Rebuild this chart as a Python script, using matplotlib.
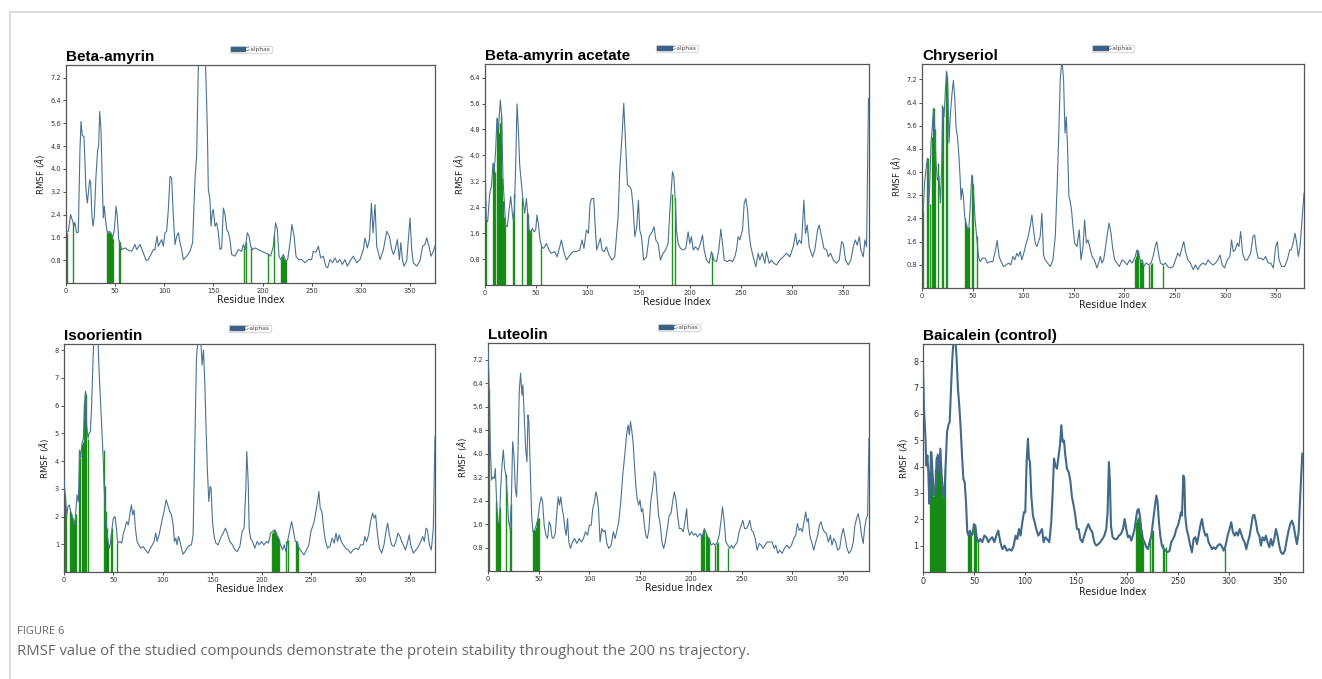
#!/usr/bin/env python3
from __future__ import annotations

import matplotlib

matplotlib.use("Agg")
import matplotlib.pyplot as plt
from matplotlib.lines import Line2D
from matplotlib.patches import Patch

COLORS = {
    "line": "#4a7393",
    "line_bold": "#41698a",
    "legend": "#3d6182",
    "contact": "#008000",
    "text": "#333333",
    "spine": "#555555",
    "caption": "#666666",
    "frame": "#d6d6d6",
}

W, H = 1322, 679

# (residue, RMSF in angstrom) vertices
BETA_AMYRIN = [
    (0, 1.76), (2.4, 1.81), (4.7, 2.4), (6.8, 2.16), (8, 1.99), (9, 2.13), (10.8, 1.76), (12.5, 1.78),
    (14.2, 4.67), (15.3, 5.66), (16.6, 5.16), (18.3, 5.14), (20.3, 3.27), (21.7, 2.8), (22.7, 3.15),
    (24.1, 3.62), (25.1, 3.5), (26.4, 2.34), (27.5, 1.99), (28.8, 2.34), (30.5, 3.74), (32.2, 4.67),
    (33.2, 4.79), (34.3, 6.01), (35.6, 5.37), (37, 3.39), (38, 2.28), (39, 2.69), (40.3, 2.16), (42, 1.76),
    (44, 1.81), (45.8, 1.76), (47.5, 1.58), (49.2, 1.87), (50.9, 2.69), (52.2, 2.34), (53.6, 1.52),
    (54.9, 1.41), (56.6, 1.17), (60, 1.23), (63.4, 1.15), (66.8, 1.11), (70.2, 1.35), (71.9, 1.17),
    (75.3, 1.35), (78.7, 1.06), (81.4, 0.79), (83.8, 0.82), (86.5, 1.0), (88.8, 1.17), (90.5, 1.17),
    (92.6, 1.64), (93.9, 1.29), (95.6, 1.41), (97.3, 1.52), (99, 1.29), (100.7, 1.76), (102.4, 1.81),
    (104.1, 2.57), (105.8, 3.74), (107.5, 3.68), (109.2, 2.34), (110.9, 1.35), (112.6, 1.64), (114.3, 1.76),
    (116, 1.41), (117.7, 1.17), (119.4, 0.82), (122.8, 0.94), (126.1, 1.11), (128.8, 1.41), (131.2, 3.62),
    (132.9, 4.44), (134.6, 7.5), (137, 8.8), (141, 8.5), (142, 7.64), (143.8, 5.37), (144.8, 3.27),
    (146.5, 2.92), (147.5, 1.99), (148.9, 2.51), (149.9, 2.57), (151.6, 1.99), (153.3, 2.11), (155, 1.76),
    (156.7, 1.17), (158.4, 1.23), (160.1, 2.63), (161.8, 2.4), (163.5, 1.87), (165.2, 1.76), (166.8, 1.52),
    (168.5, 1.0), (171.9, 0.94), (175.3, 1.17), (178.7, 1.11), (180.4, 1.35), (182.1, 1.17), (184.5, 1.76),
    (186.2, 1.64), (187.9, 1.29), (189.6, 1.17), (192.3, 1.23), (195.7, 1.17), (199, 1.11), (202.4, 1.06),
    (205.8, 1.0), (208.2, 0.94), (210.9, 1.29), (213.3, 2.11), (215, 1.87), (216.7, 0.94), (218.4, 0.82),
    (221.1, 1.0), (223.5, 0.77), (225.5, 0.82), (227.9, 1.41), (229.9, 2.05), (232, 1.64), (234, 0.94),
    (236.4, 0.82), (239.7, 0.82), (243.1, 0.71), (246.5, 0.82), (249.9, 0.82), (251.6, 1.11), (254.3, 1.08),
    (256.7, 1.29), (259.1, 0.88), (261.8, 0.94), (264.2, 0.59), (266.2, 0.53), (268.6, 0.82), (271.3, 0.71),
    (273.7, 0.88), (276, 0.71), (278.7, 0.82), (281.1, 0.65), (283.8, 0.82), (286.2, 0.59), (288.9, 0.77),
    (292.3, 0.94), (295.7, 0.71), (299.1, 0.82), (302.5, 1.17), (304.2, 1.58), (306.6, 1.23), (308.7, 1.52),
    (310.7, 2.8), (312.4, 1.76), (314.4, 2.75), (316.1, 1.29), (319.5, 0.82), (322.9, 1.17), (326.3, 1.81),
    (329, 1.64), (331.4, 1.17), (333.1, 1.0), (334.8, 1.17), (337.1, 1.52), (339.2, 0.82), (340.6, 1.41),
    (342.5, 0.77), (343.9, 0.59), (346.6, 0.77), (350, 2.28), (351.7, 1.17), (353.3, 0.71), (356.7, 0.59),
    (360.1, 0.77), (362.8, 1.29), (365.2, 1.35), (366.9, 1.58), (369.3, 1.29), (371.3, 0.94), (373.7, 1.11),
    (375.4, 1.29),
]
BETA_AMYRIN_CONTACTS = [1, 7, 42, 43, 44, 45, 46, 47, 48, 54, 55, 181, 183, 188, 206, 212, 219, 220, 221, 222, 223, 224]
BETA_AMYRIN_CONTACT_H = [1.75, 2.1, 1.75, 1.8, 1.8, 1.75, 1.7, 1.6, 1.55, 1.5, 1.45, 1.3, 1.45, 1.25, 1.05, 1.7,
                         0.85, 0.95, 0.95, 0.85, 0.8, 0.8]

BETA_AMYRIN_ACETATE = [
    (0, 3.96), (1.3, 2.0), (2.6, 1.95), (4.6, 2.83), (6.2, 3.03), (7.8, 3.76), (9.1, 3.55), (10.4, 4.17),
    (11.7, 5.15), (13, 4.79), (15, 5.71), (16.3, 5.2), (17.6, 3.24), (18.9, 2.52), (20.2, 1.85), (21.8, 1.8),
    (23.5, 2.31), (25.1, 2.73), (26.4, 2.31), (27.4, 2.0), (28.7, 2.31), (30, 3.76), (31.3, 5.59), (32.6, 4.79),
    (33.9, 3.7), (35.5, 3.14), (37.1, 2.62), (38.8, 2.21), (40.4, 2.67), (41.7, 2.21), (43, 1.7), (44.6, 1.64),
    (46.3, 1.75), (47.9, 1.64), (49.5, 1.7), (50.8, 2.16), (52.1, 1.9), (53.7, 1.39), (55.4, 1.18), (57.3, 1.13),
    (59.9, 1.28), (62.5, 1.08), (64.8, 0.98), (68.1, 1.03), (70.4, 0.87), (73, 1.18), (74.6, 1.39), (76.9, 1.03),
    (79.5, 0.77), (82.7, 0.92), (86, 1.03), (89.3, 1.03), (92.5, 1.08), (94.8, 1.39), (96.7, 1.13), (99, 1.7),
    (101, 1.59), (102.6, 2.52), (104.2, 2.67), (106.2, 2.67), (107.8, 1.7), (109.1, 1.08), (111.1, 1.28),
    (112.7, 1.44), (114.3, 1.08), (116.3, 1.03), (118.6, 1.18), (121.2, 0.92), (124.1, 0.77), (126.7, 0.87),
    (130, 2.11), (131.6, 3.55), (133.6, 4.48), (135.5, 5.61), (137.1, 4.48), (139.1, 3.09), (141.4, 3.03),
    (143, 2.93), (144.6, 2.42), (146.3, 1.49), (148.2, 1.8), (149.8, 2.62), (151.1, 1.7), (152.8, 1.49),
    (155, 0.77), (157.7, 0.87), (160.3, 1.49), (163.2, 1.64), (165.1, 1.8), (166.8, 1.39), (169.1, 1.28),
    (171.3, 0.77), (173.9, 0.98), (176.5, 1.08), (178.8, 1.28), (180.5, 2.26), (183.1, 3.5), (184.4, 3.34),
    (185.7, 2.67), (187, 1.7), (188.6, 1.28), (190.9, 1.13), (193.5, 1.08), (196.1, 1.13), (198.4, 1.64),
    (200, 1.28), (201.6, 1.49), (203.3, 1.08), (205.5, 1.18), (208.1, 1.08), (210.4, 1.28), (212.4, 1.54),
    (214, 1.08), (216.3, 0.77), (218.9, 0.67), (221.2, 1.03), (223.5, 0.77), (226.1, 0.72), (228.3, 1.08),
    (230.3, 1.72), (231.9, 1.28), (233.6, 0.77), (236.5, 0.72), (239.1, 0.77), (241.7, 0.72), (244, 0.87),
    (245.6, 1.08), (247.2, 1.49), (248.9, 1.39), (250.5, 1.59), (251.5, 1.7), (253.1, 2.52), (254.7, 2.67),
    (256.4, 2.31), (258, 1.54), (259.6, 1.18), (261.9, 0.87), (264.5, 0.56), (266.8, 0.98), (268.4, 0.77),
    (270.7, 0.98), (273.3, 0.67), (274.9, 1.03), (277.5, 0.67), (279.8, 0.77), (282.1, 0.67), (284.7, 0.62),
    (287.9, 0.77), (291.2, 0.87), (294.5, 0.98), (297.7, 0.87), (301, 1.18), (303.3, 1.59), (304.9, 1.23),
    (306.8, 1.39), (309.1, 1.28), (311.4, 2.62), (313, 1.59), (314.7, 1.85), (316.6, 1.18), (319.9, 0.87),
    (322.1, 1.08), (324.8, 1.7), (326.4, 1.85), (328.7, 1.49), (331, 1.13), (333.6, 1.08), (335.2, 0.87),
    (337.5, 0.98), (340.1, 0.77), (343.3, 0.67), (345.9, 0.77), (348.2, 1.34), (349.8, 1.28), (352.1, 0.77),
    (354.7, 0.62), (357.3, 0.77), (359.6, 1.18), (361.6, 1.39), (363.5, 1.23), (365.5, 1.49), (367.1, 1.08),
    (369.4, 0.87), (371, 1.39), (372.6, 1.18), (374.5, 5.76),
]
BETA_AMYRIN_ACETATE_CONTACTS = [1, 8, 9, 10, 12, 13, 14, 15, 16, 17, 18, 19, 20, 27, 28, 36, 41, 42, 43, 44, 45,
                                55, 183, 186, 222]
BETA_AMYRIN_ACETATE_CONTACT_H = [2.0, 3.76, 3.6, 3.5, 5.15, 5.0, 4.7, 5.0, 5.2, 3.3, 2.6, 2.1, 1.85, 2.0, 2.8,
                                 2.68, 2.26, 2.2, 1.7, 1.65, 1.7, 1.2, 2.8, 2.7, 1.0]

CHRYSERIOL = [
    (0, 2.93), (1.3, 2.7), (2.6, 3.67), (4, 4.08), (5.3, 4.48), (6.6, 2.87), (7.6, 3.5), (8.9, 5.0),
    (10.2, 5.57), (11.2, 6.2), (12.5, 5.57), (13.9, 4.3), (15.2, 3.73), (16.8, 3.85), (18.2, 2.93), (19.5, 4.3),
    (20.5, 6.26), (21.8, 5.91), (23.1, 6.83), (24.4, 7.47), (25.4, 7.06), (26.7, 5.0), (28.1, 6.03),
    (29.7, 6.72), (31, 7.16), (32.3, 6.6), (33.7, 5.51), (35, 5.23), (36.3, 4.65), (37.6, 3.85), (38.6, 3.04),
    (39.6, 3.44), (40.9, 3.16), (42.2, 2.47), (43.6, 2.24), (44.9, 2.06), (46.2, 2.01), (47.5, 2.7),
    (49.2, 3.9), (50.8, 3.39), (52.5, 2.35), (54.1, 1.72), (55.8, 1.09), (57.4, 0.91), (59.7, 1.03),
    (62.4, 1.03), (64.7, 0.86), (67.3, 0.91), (70, 0.91), (72.3, 1.26), (74.3, 1.64), (76.2, 1.09),
    (78.2, 0.91), (80.5, 0.74), (83.2, 0.8), (85.5, 0.86), (87.8, 0.8), (89.8, 1.09), (91.7, 0.97),
    (93.7, 1.2), (95.4, 1.09), (97, 1.26), (98.7, 0.97), (101, 1.26), (103, 1.55), (105, 1.78), (106.9, 2.12),
    (108.6, 2.52), (110.2, 2.01), (111.9, 1.55), (113.5, 1.43), (115.2, 1.6), (116.8, 1.78), (118.5, 2.58),
    (120.1, 1.14), (121.8, 0.97), (124.1, 0.86), (126.7, 0.74), (129.4, 0.97), (131.7, 1.78), (133.3, 3.27),
    (135, 5.11), (136.6, 7.18), (138.3, 7.9), (139.9, 7.18), (141.3, 5.34), (142.6, 5.91), (143.9, 4.77),
    (145.2, 3.16), (146.5, 2.98), (147.9, 2.64), (149.2, 2.12), (150.8, 1.55), (153.1, 1.43), (155.4, 2.01),
    (157.1, 0.97), (159.1, 1.43), (160.7, 2.35), (162.4, 1.55), (164, 1.66), (165.7, 1.43), (168, 1.09),
    (170.3, 0.97), (172.9, 0.69), (174.6, 0.86), (176.2, 1.09), (177.9, 0.86), (179.5, 0.97), (181.2, 1.37),
    (182.8, 1.78), (184.8, 2.24), (186.8, 1.89), (188.4, 1.37), (190.4, 0.97), (192.7, 0.86), (195, 0.74),
    (197.7, 0.97), (200, 0.91), (202.6, 0.8), (205.3, 0.97), (207.6, 0.86), (210.2, 1.03), (212.5, 1.32),
    (214.2, 1.2), (215.8, 0.91), (217.5, 0.97), (219.1, 0.74), (221.5, 0.86), (224.1, 0.8), (226.4, 0.86),
    (228.4, 1.09), (230.4, 1.43), (232, 1.6), (233.7, 1.2), (235.6, 0.86), (238.3, 0.8), (240.6, 0.86),
    (242.9, 0.74), (245.5, 0.69), (248.2, 0.74), (250.5, 0.97), (252.8, 1.2), (254.8, 1.09), (256.8, 1.37),
    (258.7, 1.6), (260.4, 1.26), (262.7, 0.97), (265.3, 0.86), (268, 0.63), (270.3, 0.8), (272.6, 0.63),
    (275.2, 0.8), (277.9, 0.86), (280.2, 0.8), (282.8, 0.97), (285.1, 0.86), (287.8, 0.8), (290.1, 0.86),
    (292.4, 0.97), (294.4, 1.14), (296.7, 0.8), (299, 0.69), (301.7, 0.97), (304.3, 1.09), (305.9, 1.66),
    (307.6, 1.26), (309.6, 1.32), (311.6, 1.55), (313.2, 1.43), (314.9, 1.95), (316.8, 1.2), (319.1, 0.97),
    (321.5, 0.97), (323.1, 1.09), (324.8, 1.2), (327.1, 1.78), (328.7, 1.83), (330.4, 1.32), (332.3, 1.03),
    (334.7, 1.03), (337.3, 0.97), (339.6, 1.09), (342.2, 0.86), (344.6, 0.86), (347.2, 0.69), (349.5, 1.43),
    (351.2, 1.6), (352.8, 0.97), (355.4, 0.74), (358.4, 0.74), (361, 0.97), (363.4, 1.32), (365, 1.32),
    (366.7, 1.55), (368.6, 1.89), (370.3, 1.55), (371.9, 1.09), (373.6, 1.43), (375.6, 2.35), (377.5, 3.27),
]
CHRYSERIOL_CONTACTS = [1, 5, 6, 8, 10, 11, 12, 13, 16, 20, 21, 24, 25, 42, 43, 44, 45, 46, 49, 50, 54,
                       210, 211, 212, 213, 215, 216, 217, 218, 224, 226, 227, 238]
CHRYSERIOL_CONTACT_H = [2.7, 4.1, 4.5, 2.9, 5.2, 5.9, 6.2, 5.5, 4.3, 6.3, 6.2, 7.5, 7.3, 2.4, 2.2, 2.06, 2.02,
                        2.1, 3.9, 3.6, 1.8, 1.0, 1.1, 1.3, 1.3, 1.0, 0.91, 0.95, 0.8, 0.78, 0.83, 0.85, 0.8]

ISOORIENTIN = [
    (0, 3.32), (1.3, 2.78), (2.7, 2.06), (4, 2.36), (5.4, 2.42), (6.7, 2.18), (8.1, 2.06), (9.4, 1.88),
    (10.8, 1.7), (11.8, 2.12), (13.2, 2.78), (14.5, 2.54), (15.9, 4.4), (16.9, 4.1), (18.2, 4.64), (19.6, 4.82),
    (20.9, 6.14), (21.9, 6.52), (22.9, 5.3), (24.3, 4.82), (25.3, 5.0), (26.7, 5.06), (28, 6.02), (29.4, 7.7),
    (30.4, 8.6), (32.7, 9.0), (34.4, 8.3), (35.4, 7.34), (36.8, 6.26), (38.1, 5.3), (39.5, 4.22), (40.5, 3.14),
    (41.8, 2.18), (43.2, 1.58), (44.5, 1.1), (45.9, 0.86), (47.2, 1.1), (48.6, 1.58), (49.9, 1.94), (51.6, 2.0),
    (53, 1.58), (54.3, 1.04), (56.4, 1.1), (58.4, 1.04), (60.1, 1.4), (61.8, 1.58), (63.4, 1.82), (65.1, 1.7),
    (66.5, 2.06), (68.2, 2.42), (69.5, 2.06), (70.9, 2.24), (72.2, 1.58), (73.9, 1.1), (75.6, 0.98),
    (77.6, 0.86), (80, 0.92), (82.3, 0.8), (85, 0.68), (87.4, 0.86), (89.4, 0.98), (91.1, 1.1), (92.8, 1.4),
    (94.2, 1.1), (96.2, 1.34), (97.9, 1.64), (99.6, 1.94), (101.2, 2.18), (103.3, 2.6), (104.9, 2.42),
    (107, 2.18), (108.7, 2.06), (110.4, 1.7), (111.7, 1.1), (113.1, 1.22), (114.4, 0.98), (115.8, 1.28),
    (117.4, 1.1), (118.8, 0.86), (120.5, 0.64), (122.5, 0.74), (124.5, 0.86), (126.6, 0.95), (128.9, 0.98),
    (130.6, 1.34), (132.3, 4.46), (134, 7.7), (135.7, 8.5), (138, 8.6), (139.7, 7.46), (141.1, 8.0),
    (142.4, 6.86), (143.8, 5.06), (145.1, 3.62), (146.5, 2.54), (147.8, 3.08), (148.8, 3.02), (150.2, 1.82),
    (151.9, 1.28), (153.6, 1.04), (155.9, 0.98), (158.3, 1.22), (161, 1.4), (163.3, 1.58), (165.7, 1.34),
    (167.7, 1.1), (170.4, 0.98), (172.8, 0.8), (175.2, 0.74), (177.9, 0.92), (180.2, 1.46), (182.2, 1.58),
    (183.9, 3.02), (184.9, 4.34), (186.3, 3.26), (187.3, 1.58), (188.7, 1.22), (190.7, 1.1), (193, 0.86),
    (195.4, 1.1), (197.4, 0.98), (199.7, 1.1), (202.2, 0.98), (204.9, 1.1), (206.9, 1.04), (208.9, 1.4),
    (210.9, 1.46), (213.3, 1.52), (215, 1.34), (217, 1.22), (219, 0.98), (221.1, 0.8), (222.7, 0.98),
    (224.4, 0.74), (226.1, 1.1), (228.1, 1.46), (230.2, 1.82), (231.9, 1.52), (233.9, 1.1), (235.9, 1.1),
    (237.9, 0.86), (240.3, 0.74), (242.7, 0.62), (245.4, 0.8), (247.7, 0.98), (249.8, 1.46), (251.4, 1.64),
    (253.1, 1.82), (254.8, 2.18), (256.5, 2.54), (257.8, 2.9), (259.2, 2.3), (260.9, 2.18), (262.6, 1.58),
    (264.6, 1.1), (266.6, 0.86), (269, 0.92), (271.3, 1.22), (273.4, 1.04), (275.1, 1.4), (276.7, 1.1),
    (278.4, 1.34), (280.5, 1.1), (282.5, 0.98), (284.8, 0.86), (287.5, 0.8), (289.9, 0.68), (292.6, 0.8),
    (295.3, 0.86), (297.7, 0.8), (300, 0.98), (302.7, 0.98), (304.4, 1.28), (306.1, 1.1), (308.1, 1.34),
    (310.1, 1.82), (312.2, 2.12), (313.8, 1.94), (315.2, 2.06), (317.2, 1.34), (318.9, 0.86), (321.3, 0.68),
    (323.7, 0.98), (325.7, 1.46), (327.4, 1.76), (329.1, 1.34), (331.4, 0.98), (333.8, 0.92), (335.8, 1.1),
    (337.8, 1.4), (339.9, 1.28), (341.6, 1.1), (343.2, 0.98), (345.3, 0.8), (347.3, 1.04), (349.3, 1.34),
    (350.7, 0.98), (353.4, 0.68), (356.1, 0.8), (358.5, 0.92), (360.8, 1.1), (362.9, 1.28), (364.5, 1.1),
    (366.2, 1.58), (367.6, 1.52), (369.6, 0.98), (371.6, 0.8), (373.6, 1.58), (375.3, 4.88),
]
ISOORIENTIN_CONTACTS = [1, 2, 6, 7, 8, 9, 10, 11, 12, 15, 16, 18, 19, 20, 21, 22, 24, 40, 41, 42, 43, 44, 45,
                        48, 49, 54, 210, 211, 212, 213, 214, 215, 216, 217, 225, 227, 235, 236, 237]
ISOORIENTIN_CONTACT_H = [2.8, 2.3, 2.2, 2.1, 2.0, 1.9, 1.75, 1.9, 2.1, 4.4, 4.1, 4.6, 4.7, 6.1, 6.5, 6.4, 4.8,
                         4.4, 3.1, 2.2, 1.6, 1.2, 1.0, 1.4, 1.6, 1.05, 1.4, 1.45, 1.5, 1.52, 1.45, 1.35, 1.25,
                         1.2, 1.1, 1.15, 1.1, 1.05, 0.9]

LUTEOLIN = [
    (0, 7.71), (1.3, 6.12), (2.3, 4.18), (3.6, 3.1), (4.9, 3.21), (6.2, 3.16), (7.2, 3.5), (8.5, 2.36),
    (9.8, 1.68), (11.2, 1.62), (12.5, 2.82), (13.8, 3.61), (15.1, 4.13), (16.4, 3.5), (17.7, 3.27), (19, 2.59),
    (20.3, 1.68), (21.6, 1.45), (23, 2.36), (24.3, 4.41), (25.6, 3.95), (26.9, 2.82), (28.2, 2.53),
    (29.5, 3.95), (30.8, 6.12), (32.1, 6.75), (33.5, 6.0), (34.4, 6.35), (35.7, 5.32), (37.1, 4.18),
    (38.4, 3.73), (39.4, 5.32), (40.3, 5.09), (41.7, 3.39), (43, 1.9), (44.3, 1.34), (45.9, 1.39), (47.6, 1.56),
    (49.2, 1.79), (50.8, 2.25), (52.5, 2.53), (53.8, 2.36), (55.4, 1.56), (57.1, 1.22), (58.7, 1.11),
    (60.3, 1.68), (61.7, 1.56), (63, 1.16), (64.6, 1.11), (66.3, 1.28), (67.9, 2.02), (69.2, 2.53),
    (70.5, 2.25), (71.8, 2.53), (73.1, 2.13), (74.4, 1.9), (75.8, 1.45), (77.1, 1.22), (78.4, 1.79),
    (79.7, 0.99), (81.3, 0.77), (83.3, 0.99), (85.3, 1.11), (87.6, 0.94), (89.9, 1.11), (92.2, 0.99),
    (94.1, 1.11), (96.1, 1.34), (98.1, 1.22), (100, 1.56), (101.7, 1.56), (103.3, 2.13), (104.9, 2.36),
    (106.3, 2.7), (107.6, 2.53), (108.9, 2.13), (110.5, 0.99), (112.2, 1.45), (113.8, 1.34), (115.4, 1.39),
    (117.1, 0.94), (119.1, 0.77), (121.4, 0.88), (123.6, 1.34), (125.3, 1.11), (126.9, 1.34), (128.9, 1.68),
    (130.9, 2.36), (132.8, 3.27), (134.8, 3.95), (136.8, 4.7), (138.1, 4.98), (139.4, 4.64), (140.4, 5.1),
    (141.7, 4.81), (143, 4.41), (144.4, 3.61), (145.7, 2.93), (147, 2.47), (148.6, 2.25), (149.9, 2.42),
    (151.2, 2.02), (152.5, 2.13), (153.8, 1.68), (155.5, 1.22), (157.1, 1.11), (158.7, 1.45), (160.4, 2.36),
    (162.3, 2.82), (164, 3.39), (165.3, 3.27), (166.6, 2.59), (168.2, 1.9), (169.9, 1.56), (171.5, 0.99),
    (173.2, 0.77), (174.8, 0.99), (176.8, 1.45), (178.7, 1.9), (180.4, 1.96), (182, 2.36), (183.7, 2.7),
    (185.3, 2.42), (186.9, 1.9), (188.6, 1.45), (190.5, 1.45), (192.5, 1.34), (194.2, 1.68), (195.8, 2.13),
    (197.1, 1.45), (198.8, 1.22), (200.7, 1.34), (202.7, 1.22), (204.7, 1.28), (206.6, 1.16), (208.9, 1.28),
    (211.2, 1.16), (213.2, 1.45), (214.8, 1.34), (216.5, 1.16), (218.1, 1.11), (220.1, 0.88), (222, 0.94),
    (224, 0.88), (226, 0.99), (227.9, 1.22), (229.6, 1.68), (231.2, 2.19), (232.9, 1.68), (234.5, 0.99),
    (236.5, 0.88), (238.4, 0.77), (240.1, 0.88), (241.7, 0.77), (243.7, 0.88), (245.7, 0.99), (247.6, 1.34),
    (249.6, 1.56), (251.2, 1.73), (252.9, 1.45), (254.8, 1.45), (256.5, 1.56), (258.1, 1.73), (259.8, 1.39),
    (261.4, 1.34), (263.4, 1.11), (265.3, 0.71), (267.3, 0.94), (269.3, 0.88), (271.2, 0.77), (273.2, 0.88),
    (275.2, 0.99), (277.8, 0.99), (280.1, 0.99), (282.1, 0.77), (283.7, 0.88), (285.7, 0.6), (287.6, 0.71),
    (289.9, 0.6), (292.2, 0.77), (294.6, 0.88), (296.9, 0.77), (299.2, 0.88), (301.4, 1.11), (303.4, 1.22),
    (305, 1.62), (306.7, 1.39), (308.3, 1.45), (309.9, 1.34), (311.6, 1.68), (313.2, 2.02), (314.5, 1.68),
    (315.8, 1.79), (317.2, 1.22), (319.1, 0.99), (321.1, 0.71), (323.1, 0.99), (325, 1.22), (326.7, 1.56),
    (328.3, 1.68), (330, 1.45), (331.6, 1.34), (333.6, 1.28), (335.5, 0.99), (337.5, 1.22), (339.1, 0.88),
    (340.8, 1.11), (342.7, 0.99), (344.7, 0.71), (346.7, 0.77), (348.6, 1.22), (350.2, 1.45), (351.9, 1.16),
    (353.9, 0.77), (355.8, 0.6), (358.1, 0.71), (360.1, 0.99), (361.7, 1.56), (363.4, 1.79), (365, 1.96),
    (366.6, 1.68), (368.3, 1.22), (369.9, 0.94), (371.2, 1.45), (372.9, 1.79), (374.2, 1.9), (375.6, 4.52),
]
LUTEOLIN_CONTACTS = [1, 8, 9, 10, 11, 12, 18, 22, 23, 44, 45, 46, 47, 48, 49, 50, 210, 211, 212, 213, 215, 216,
                     217, 218, 224, 226, 227, 237]
LUTEOLIN_CONTACT_H = [6.2, 2.4, 2.0, 1.7, 1.65, 2.2, 3.3, 1.5, 2.3, 1.35, 1.4, 1.4, 1.5, 1.7, 1.8, 1.8, 1.25,
                      1.2, 1.35, 1.4, 1.3, 1.2, 1.15, 1.1, 0.9, 0.95, 1.0, 0.8]

BAICALEIN = [
    (0, 7.85), (1, 6.2), (2.3, 5.18), (3.3, 4.04), (4.3, 4.42), (5.2, 3.79), (6.2, 2.59), (7.2, 3.66),
    (8.2, 4.55), (9.5, 3.66), (10.8, 2.9), (12.1, 2.9), (13.4, 4.3), (14.7, 4.42), (16, 3.79), (17, 4.68),
    (18.3, 3.66), (19.6, 3.03), (20.9, 2.84), (22.2, 4.04), (23.6, 5.31), (24.9, 5.57), (26.2, 5.69),
    (27.5, 6.96), (28.8, 8.1), (30.1, 8.9), (31.7, 8.9), (33, 8.1), (34.3, 6.96), (35.7, 6.26), (37, 5.44),
    (38.3, 4.42), (39.6, 3.54), (40.9, 3.41), (42.2, 2.65), (43.5, 1.51), (44.8, 1.38), (46.1, 1.57),
    (47.4, 1.38), (48.7, 1.44), (50, 1.82), (51.4, 1.76), (52.7, 1.32), (54.3, 1.13), (56.3, 1.25),
    (58.2, 1.13), (60.2, 1.38), (62.2, 1.32), (64.1, 1.13), (66.1, 1.25), (68, 1.32), (70, 1.13), (72, 1.38),
    (73.9, 1.57), (75.9, 1.13), (77.9, 0.87), (80.1, 1.0), (82.4, 0.81), (84.7, 0.87), (87, 0.81), (89, 1.0),
    (90.9, 1.38), (92.6, 1.25), (94.2, 1.63), (95.8, 1.38), (97.5, 1.89), (99.1, 2.27), (100.4, 2.27),
    (101.7, 4.17), (103, 5.06), (104, 4.3), (105, 4.17), (106.3, 2.9), (107.9, 2.14), (109.6, 1.89),
    (111.2, 1.63), (113.2, 1.38), (115.1, 1.51), (116.8, 1.63), (118.4, 1.13), (120.1, 1.32), (121.7, 1.25),
    (124, 1.13), (125.9, 1.89), (127.3, 3.03), (128.6, 4.3), (129.9, 4.04), (131.5, 3.92), (133.1, 4.42),
    (134.4, 4.8), (135.8, 5.57), (137.1, 4.93), (138.4, 4.99), (139.7, 4.42), (141.3, 3.92), (143, 3.79),
    (144.6, 3.47), (146.2, 2.84), (147.9, 2.52), (149.5, 2.14), (151.1, 1.63), (152.8, 1.63), (154.4, 1.25),
    (156.4, 1.13), (158.3, 1.38), (160.3, 1.63), (162.3, 1.82), (164.2, 1.63), (166.2, 1.51), (168.1, 1.13),
    (170.1, 1.0), (172.1, 1.06), (174, 1.13), (176, 1.25), (178, 1.38), (179.9, 1.63), (181.2, 2.27),
    (182.5, 4.17), (183.5, 3.41), (184.5, 1.76), (186.1, 1.32), (188.1, 1.25), (190.4, 1.25), (192.3, 1.38),
    (194.3, 1.44), (196.3, 1.63), (197.9, 2.01), (199.5, 1.63), (201.2, 1.32), (202.8, 1.38), (204.4, 1.19),
    (206.1, 1.38), (207.7, 1.63), (209, 2.01), (210.3, 2.33), (211.6, 2.39), (212.9, 2.14), (214.3, 1.63),
    (215.9, 1.25), (217.5, 1.13), (219.2, 0.94), (220.8, 0.87), (222.4, 1.13), (224.1, 1.38), (225.7, 1.89),
    (227.3, 2.39), (229, 2.9), (230.3, 2.65), (231.6, 1.89), (232.9, 1.38), (234.5, 1.0), (236.2, 0.87),
    (238.1, 0.81), (240.1, 0.75), (242.1, 0.81), (243.7, 1.13), (245.3, 1.25), (247, 1.38), (248.6, 1.63),
    (250.2, 1.76), (251.9, 2.01), (253.2, 2.27), (254.2, 2.14), (255.5, 3.66), (256.5, 3.54), (257.4, 2.14),
    (258.8, 1.63), (260.4, 1.38), (262, 1.06), (264, 0.75), (265.6, 1.25), (267.3, 1.32), (268.9, 1.06),
    (270.5, 1.38), (272.2, 1.76), (273.8, 2.01), (275.4, 1.63), (277.1, 1.38), (278.7, 1.44), (280.3, 1.13),
    (282, 1.0), (283.6, 0.87), (285.2, 0.94), (287.2, 0.87), (289.2, 1.0), (291.1, 1.06), (293.1, 1.0),
    (295.1, 0.81), (297, 1.0), (299, 1.38), (300.9, 1.63), (302.6, 1.89), (304.2, 1.51), (305.9, 1.38),
    (307.5, 1.51), (309.1, 1.38), (310.8, 1.63), (312.4, 1.44), (314, 1.25), (315.7, 1.13), (317.3, 0.87),
    (318.9, 1.13), (320.6, 1.38), (322.2, 1.76), (323.8, 2.14), (325.2, 2.17), (326.8, 1.89), (328.4, 1.51),
    (330.1, 1.38), (331.7, 1.0), (333.3, 1.32), (335, 1.19), (336.6, 1.38), (338.2, 1.13), (339.9, 0.94),
    (341.5, 1.25), (343.1, 1.0), (344.8, 1.25), (346.4, 1.63), (348, 1.38), (349.7, 1.0), (351.3, 0.75),
    (353.3, 0.68), (355.2, 0.81), (357.2, 1.25), (358.8, 1.57), (360.5, 1.82), (362.1, 1.95), (363.8, 1.76),
    (365.4, 1.38), (367, 1.06), (368.7, 1.51), (370.3, 2.9), (372.3, 4.49),
]
BAICALEIN_CONTACTS = [7, 8, 9, 10, 11, 12, 13, 14, 15, 16, 17, 18, 19, 20, 21, 22, 44, 45, 46, 47, 50, 51, 52,
                      54, 209, 210, 211, 212, 213, 214, 215, 216, 223, 225, 226, 236, 237, 239, 296]
BAICALEIN_CONTACT_H = [4.6, 4.5, 3.7, 2.9, 2.9, 3.9, 4.3, 4.5, 4.0, 3.8, 4.5, 3.7, 3.0, 2.85, 3.0, 3.9, 1.4,
                       1.5, 1.6, 1.4, 1.8, 1.75, 1.35, 1.15, 1.9, 2.0, 2.1, 2.0, 1.9, 1.6, 1.3, 1.15, 1.3, 1.5,
                       1.6, 1.05, 0.9, 0.95, 0.9]

TITLES = ["Beta-amyrin", "Beta-amyrin acetate", "Chryseriol", "Isoorientin", "Luteolin", "Baicalein (control)"]
Y_TOPS = [7.64, 6.82, 7.73, 8.22, 7.78, 8.65]
X_RIGHTS = [375.4, 375, 377.5, 375.3, 375.6, 373]
Y_TICKS = [
    [0.8, 1.6, 2.4, 3.2, 4.0, 4.8, 5.6, 6.4, 7.2],
    [0.8, 1.6, 2.4, 3.2, 4.0, 4.8, 5.6, 6.4],
    [0.8, 1.6, 2.4, 3.2, 4.0, 4.8, 5.6, 6.4, 7.2],
    [1, 2, 3, 4, 5, 6, 7, 8],
    [0.8, 1.6, 2.4, 3.2, 4.0, 4.8, 5.6, 6.4, 7.2],
    [1, 2, 3, 4, 5, 6, 7, 8],
]
X_TICKS = [0, 50, 100, 150, 200, 250, 300, 350]

# axes boxes in pixels of the 1322x679 canvas: left, top, right, bottom
BOXES = [(66, 65, 435, 283), (485, 64, 869, 285), (922, 64, 1304, 288),
         (64, 344, 435, 572), (488, 343, 869, 571), (923, 344, 1303, 572)]


def savefig(path: str) -> None:
    plt.savefig(path, dpi=100)
    plt.close()


def add_panel(fig, i, curve, contacts, heights, legend=True, bold=False):
    l, t, r, b = BOXES[i]
    ax = fig.add_axes([l / W, 1 - b / H, (r - l) / W, (b - t) / H])
    xs = [p[0] for p in curve]
    ys = [p[1] for p in curve]
    ax.vlines(contacts, 0, heights, color=COLORS["contact"], lw=1.0, alpha=0.88, zorder=2)
    ax.plot(xs, ys, color=COLORS["line_bold"] if bold else COLORS["line"], lw=1.5 if bold else 0.8, zorder=3)
    ax.set_xlim(0, X_RIGHTS[i])
    ax.set_ylim(0, Y_TOPS[i])
    ax.set_xticks(X_TICKS)
    ax.set_yticks(Y_TICKS[i])
    if i in (3, 5):
        ax.set_yticklabels([str(v) for v in Y_TICKS[i]])
    tick_fs = 5.8 if bold else 4.8
    ax.tick_params(labelsize=tick_fs, length=2, width=0.6, pad=1.5, colors=COLORS["text"])
    for s in ax.spines.values():
        s.set_color(COLORS["spine"])
        s.set_linewidth(0.9)
    ax.set_xlabel("Residue Index", fontsize=6.9, labelpad=0.5, color="#222222")
    ax.set_ylabel(r"RMSF ($\AA$)", fontsize=6.4, labelpad=2.5, color="#222222")
    ax.set_title(TITLES[i], loc="left", fontsize=11, fontweight="bold",
                 family=["Liberation Sans", "DejaVu Sans"], pad=3)
    if legend:
        h = [Patch(facecolor=COLORS["legend"], edgecolor=COLORS["legend"], label="C-alphas")]
        ax.legend(handles=h, loc="center", bbox_to_anchor=(0.5, 1 + 15.5 / (b - t)), fontsize=4.3,
                  handlelength=2.4, handleheight=0.6, handletextpad=-0.2, borderpad=0.25,
                  frameon=True, framealpha=1, edgecolor="#dddddd", labelcolor="#444444")
    return ax


def main() -> None:
    fig = plt.figure(figsize=(W / 100, H / 100), dpi=100)
    fig.patch.set_facecolor("white")
    fig.add_artist(Line2D([10 / W, 1], [1 - 12 / H, 1 - 12 / H], transform=fig.transFigure,
                          color=COLORS["frame"], lw=1.2))
    fig.add_artist(Line2D([10 / W, 10 / W], [0, 1 - 12 / H], transform=fig.transFigure,
                          color=COLORS["frame"], lw=1.2))

    add_panel(fig, 0, BETA_AMYRIN, BETA_AMYRIN_CONTACTS, BETA_AMYRIN_CONTACT_H)
    add_panel(fig, 1, BETA_AMYRIN_ACETATE, BETA_AMYRIN_ACETATE_CONTACTS, BETA_AMYRIN_ACETATE_CONTACT_H)
    add_panel(fig, 2, CHRYSERIOL, CHRYSERIOL_CONTACTS, CHRYSERIOL_CONTACT_H)
    add_panel(fig, 3, ISOORIENTIN, ISOORIENTIN_CONTACTS, ISOORIENTIN_CONTACT_H)
    add_panel(fig, 4, LUTEOLIN, LUTEOLIN_CONTACTS, LUTEOLIN_CONTACT_H)
    add_panel(fig, 5, BAICALEIN, BAICALEIN_CONTACTS, BAICALEIN_CONTACT_H, legend=False, bold=True)

    fig.text(17 / W, 1 - 634 / H, "FIGURE 6", fontsize=8, color=COLORS["caption"],
             family=["Open Sans", "DejaVu Sans"], va="baseline")
    fig.text(17 / W, 1 - 655 / H,
             "RMSF value of the studied compounds demonstrate the protein stability throughout the 200 ns trajectory.",
             fontsize=10.7, color=COLORS["caption"], family=["Open Sans", "DejaVu Sans"], va="baseline")
    savefig("out.png")


if __name__ == "__main__":
    main()
